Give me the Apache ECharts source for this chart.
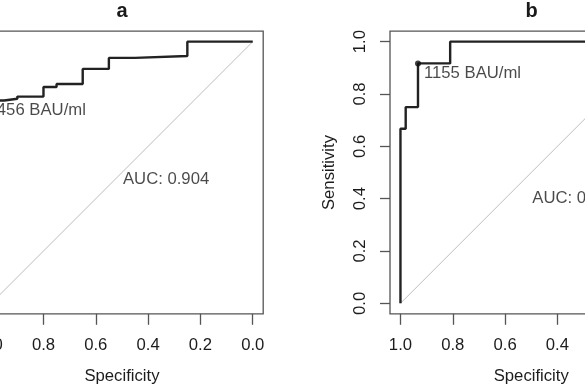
<!DOCTYPE html>
<html>
<head>
<meta charset="utf-8">
<script src="https://cdn.jsdelivr.net/npm/echarts@6/dist/echarts.min.js"></script>
<style>html,body{margin:0;padding:0;background:#fff}#c{width:585px;height:390px}</style>
</head>
<body>
<div id="c"></div>
<script>
// ---- data ----
const ticks = [0, 0.2, 0.4, 0.6, 0.8, 1.0];
const titles = ['a', 'b'];
const specA = [1.0, 1.0, 0.95, 0.90, 0.80, 0.75, 0.65, 0.55, 0.45, 0.25, 0.0];
const sensA = [0.0, 0.775, 0.782, 0.790, 0.827, 0.838, 0.896, 0.938, 0.945, 1.0, 1.0];
const specB = [1.0, 1.0, 0.98, 0.933, 0.81, 0.0];
const sensB = [0.0, 0.667, 0.75, 0.917, 1.0, 1.0];
const threshA = [1.0, 0.775];
const threshB = [0.933, 0.917];
const threshLabels = ['1456 BAU/ml', '1155 BAU/ml'];
const aucLabels = ['AUC: 0.904', 'AUC: 0.971'];
const aucPos = [[0.5, 0.472], [0.5, 0.4]];
const diagSpec = [1, 0];
const diagSens = [0, 1];

// ---- chart ----
const FONT = 'Liberation Sans';
const TXT = '#1c1c1c';
const FS = 16.7;
const zip = (a, b) => a.map((v, i) => [v, b[i]]);
const grids = [
  { left: -19.3, top: 31.2, width: 282.5, height: 282.6 },
  { left: 390, top: 31.2, width: 282.5, height: 282.6 }
].map(g => Object.assign({ show: true, borderColor: '#555', borderWidth: 1.3, backgroundColor: 'transparent', containLabel: false, outerBoundsMode: 'none' }, g));

function xAx(i) {
  return {
    gridIndex: i, type: 'value', min: -0.04, max: 1.04, inverse: true,
    splitLine: { show: false }, axisLine: { show: false, onZero: false },
    axisTick: { show: true, customValues: ticks, length: 11, lineStyle: { color: '#555', width: 1.3 } },
    axisLabel: { customValues: ticks, formatter: v => v.toFixed(1), margin: 23, fontFamily: FONT, fontSize: FS, color: TXT, hideOverlap: false },
    name: 'Specificity', nameLocation: 'middle', nameGap: 54,
    nameTextStyle: { fontFamily: FONT, fontSize: FS, color: TXT }
  };
}
function yAx(i) {
  return {
    gridIndex: i, type: 'value', min: -0.04, max: 1.04,
    splitLine: { show: false }, axisLine: { show: false, onZero: false },
    axisTick: { show: true, customValues: ticks, length: 10, lineStyle: { color: '#555', width: 1.3 } },
    axisLabel: { customValues: ticks, formatter: v => v.toFixed(1), rotate: 90, margin: 21, fontFamily: FONT, fontSize: FS, color: TXT, hideOverlap: false },
    name: 'Sensitivity', nameLocation: 'middle', nameGap: 52, nameRotate: 90,
    nameTextStyle: { fontFamily: FONT, fontSize: FS, color: TXT }
  };
}

const curves = [zip(specA, sensA), zip(specB, sensB)];
const thr = [threshA, threshB];
const thrLabelOpts = [
  { position: 'right', distance: 0, offset: [-6.6, 10] },
  { position: 'right', distance: 3, offset: [0, 10] }
];

const series = [];
for (let i = 0; i < 2; i++) {
  series.push({
    type: 'line', xAxisIndex: i, yAxisIndex: i, data: zip(diagSpec, diagSens),
    symbol: 'none', lineStyle: { color: '#bdbdbd', width: 1 }, silent: true, z: 1
  });
  series.push({
    type: 'line', xAxisIndex: i, yAxisIndex: i, data: curves[i], step: 'end',
    symbol: 'none', lineStyle: { color: '#222', width: 2.4 }, z: 3
  });
  series.push({
    type: 'scatter', xAxisIndex: i, yAxisIndex: i, data: [thr[i]],
    symbol: 'circle', symbolSize: 6, itemStyle: { color: '#111' }, z: 4,
    label: Object.assign({ show: true, formatter: threshLabels[i], fontFamily: FONT, fontSize: FS, color: TXT, align: 'left' }, thrLabelOpts[i])
  });
  series.push({
    type: 'scatter', xAxisIndex: i, yAxisIndex: i, data: [aucPos[i]],
    symbolSize: 0, z: 4,
    label: { show: true, position: 'right', distance: 1, formatter: aucLabels[i], fontFamily: FONT, fontSize: FS, color: TXT, align: 'left' }
  });
}

const chart = echarts.init(document.getElementById('c'), null, { renderer: 'canvas' });
chart.setOption({
  animation: false,
  backgroundColor: '#fff',
  title: [
    { text: titles[0], left: 122, top: 1, textAlign: 'center', padding: 0, textStyle: { fontFamily: FONT, fontSize: 20, fontWeight: 'bold', color: '#1a1a1a' } },
    { text: titles[1], left: 531.5, top: 1, textAlign: 'center', padding: 0, textStyle: { fontFamily: FONT, fontSize: 20, fontWeight: 'bold', color: '#1a1a1a' } }
  ],
  grid: grids,
  xAxis: [xAx(0), xAx(1)],
  yAxis: [yAx(0), yAx(1)],
  series: series
});
</script>
</body>
</html>
